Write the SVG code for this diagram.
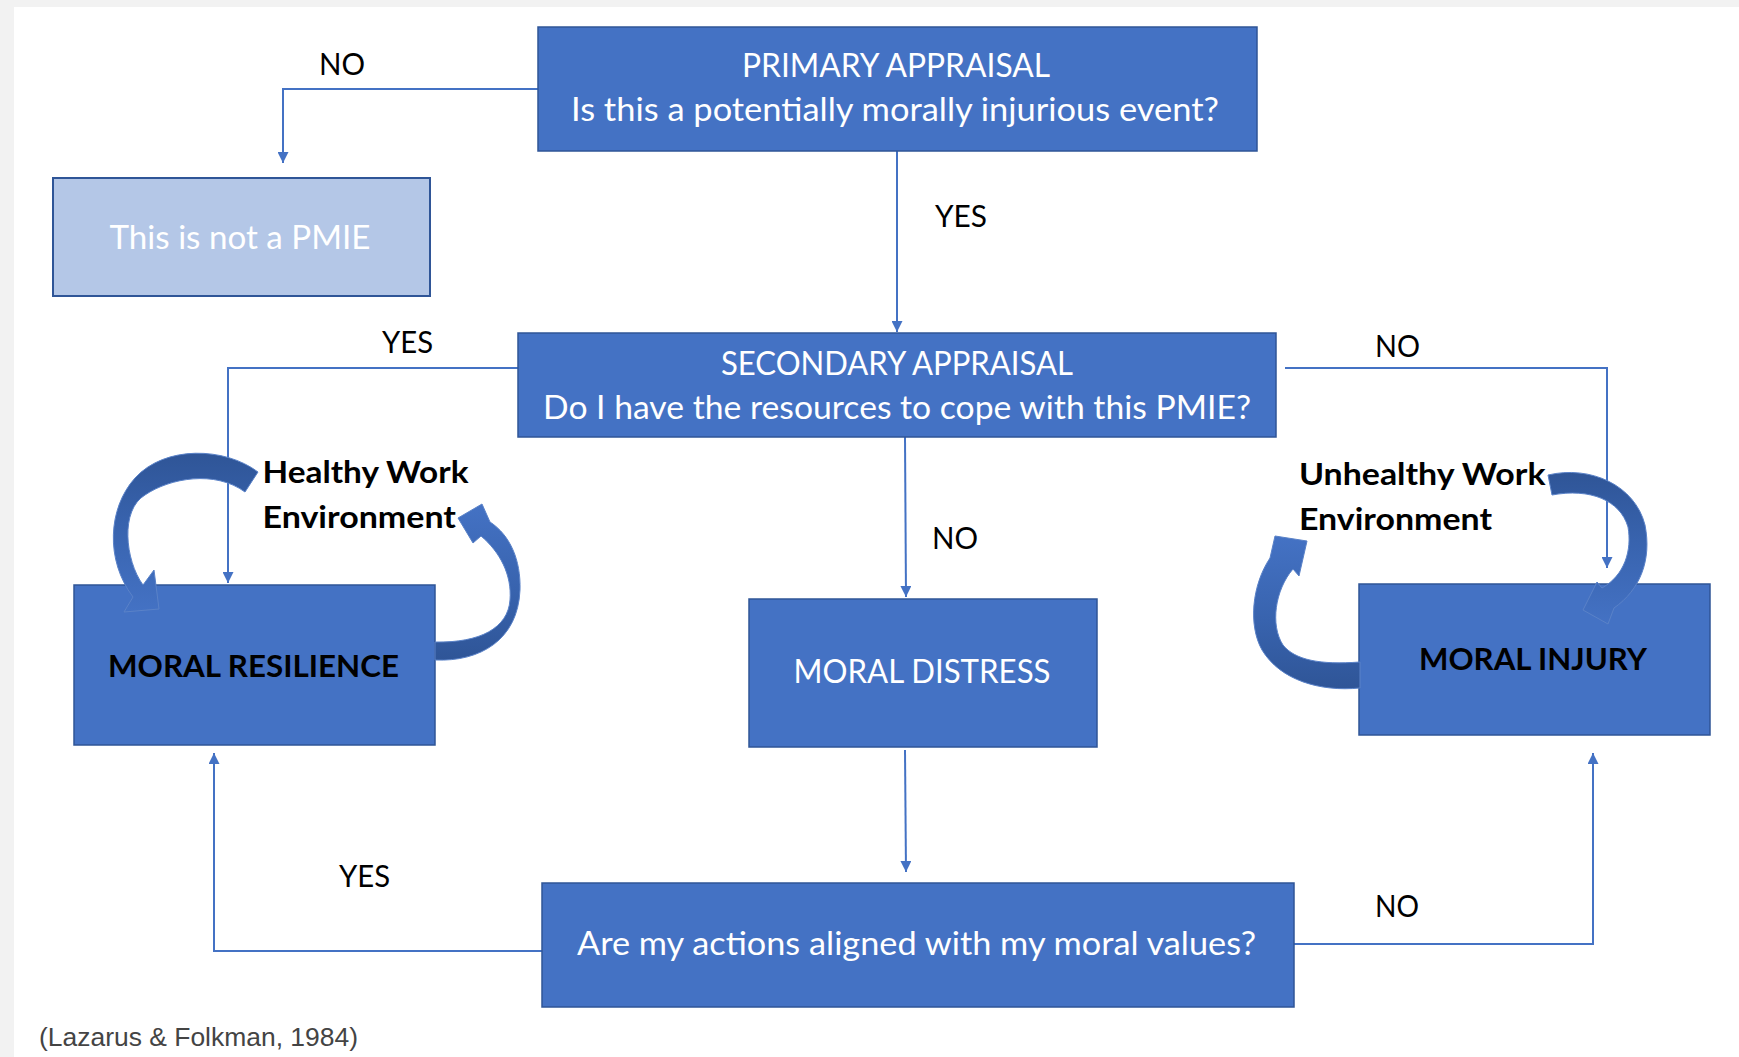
<svg xmlns="http://www.w3.org/2000/svg" width="1739" height="1057" viewBox="0 0 1739 1057">
<style>
.box{fill:#4472C4;stroke:#2F5597;stroke-width:1.5}
.light{fill:#B4C7E7;stroke:#2F5597;stroke-width:2}
.wt{font-family:Lato,"Liberation Sans",sans-serif;font-size:33px;fill:#FFFFFF;text-anchor:middle}
.bt{font-family:Lato,"Liberation Sans",sans-serif;font-size:31px;font-weight:700;fill:#000000}
.lbl{font-family:Lato,"Liberation Sans",sans-serif;font-size:31px;fill:#000000}
.conn{fill:none;stroke:#4472C4;stroke-width:2}
.curve{stroke:#5A82C8;stroke-width:1}
.cite{font-family:"Liberation Sans",Arial,sans-serif;font-size:26px;fill:#444444}
</style>
<defs>
<marker id="ah" viewBox="0 0 10 10" refX="10" refY="5" markerWidth="11" markerHeight="11" markerUnits="userSpaceOnUse" orient="auto">
<path d="M0,0 L10,5 L0,10 z" fill="#4472C4"/>
</marker>
<linearGradient id="gTopDark" x1="0" y1="0" x2="0" y2="1">
<stop offset="0" stop-color="#2F5597"/><stop offset="0.45" stop-color="#3863AE"/><stop offset="1" stop-color="#4472C4"/>
</linearGradient>
<linearGradient id="gBotDark" x1="0" y1="1" x2="0" y2="0">
<stop offset="0" stop-color="#2F5597"/><stop offset="0.45" stop-color="#3863AE"/><stop offset="1" stop-color="#4472C4"/>
</linearGradient>
</defs>
<rect x="0" y="0" width="1739" height="1057" fill="#FFFFFF"/>
<rect x="0" y="0" width="1739" height="7" fill="#F2F2F2"/>
<rect x="0" y="0" width="14" height="1057" fill="#F2F2F2"/>

<g id="connectors">
<path class="conn" d="M538,89 H283 V163" marker-end="url(#ah)"/>
<path class="conn" d="M897,151 V332" marker-end="url(#ah)"/>
<path class="conn" d="M518,368 H228 V583" marker-end="url(#ah)"/>
<path class="conn" d="M1285,368 H1607 V568" marker-end="url(#ah)"/>
<path class="conn" d="M905,437 L906,597" marker-end="url(#ah)"/>
<path class="conn" d="M905,750 L906,872" marker-end="url(#ah)"/>
<path class="conn" d="M542,951 H214 V753" marker-end="url(#ah)"/>
<path class="conn" d="M1294,944 H1593 V753" marker-end="url(#ah)"/>
<text class="lbl" x="319" y="75" textLength="46" lengthAdjust="spacingAndGlyphs">NO</text>
<text class="lbl" x="935" y="227" textLength="52" lengthAdjust="spacingAndGlyphs">YES</text>
<text class="lbl" x="382" y="353" textLength="51" lengthAdjust="spacingAndGlyphs">YES</text>
<text class="lbl" x="1375" y="357" textLength="45" lengthAdjust="spacingAndGlyphs">NO</text>
<text class="lbl" x="932" y="549" textLength="46" lengthAdjust="spacingAndGlyphs">NO</text>
<text class="lbl" x="339" y="887" textLength="51" lengthAdjust="spacingAndGlyphs">YES</text>
<text class="lbl" x="1375" y="917" textLength="44" lengthAdjust="spacingAndGlyphs">NO</text>
</g>

<g id="primary-appraisal">
<rect class="box" x="538" y="27" width="719" height="124"/>
<text class="wt" x="896" y="77" textLength="308" lengthAdjust="spacingAndGlyphs">PRIMARY APPRAISAL</text>
<text class="wt" x="895" y="121" textLength="648" lengthAdjust="spacingAndGlyphs">Is this a potentially morally injurious event?</text>
</g>

<g id="not-pmie">
<rect class="light" x="53" y="178" width="377" height="118"/>
<text class="wt" x="240" y="249" textLength="261" lengthAdjust="spacingAndGlyphs">This is not a PMIE</text>
</g>

<g id="secondary-appraisal">
<rect class="box" x="518" y="333" width="758" height="104"/>
<text class="wt" x="897" y="375" textLength="352" lengthAdjust="spacingAndGlyphs">SECONDARY APPRAISAL</text>
<text class="wt" x="897" y="419" textLength="708" lengthAdjust="spacingAndGlyphs">Do I have the resources to cope with this PMIE?</text>
</g>

<g id="moral-resilience">
<rect class="box" x="74" y="585" width="361" height="160"/>
<text class="bt" x="253.5" y="677" text-anchor="middle" textLength="291" lengthAdjust="spacingAndGlyphs">MORAL RESILIENCE</text>
</g>

<g id="moral-distress">
<rect class="box" x="749" y="599" width="348" height="148"/>
<text class="wt" x="922" y="683" textLength="257" lengthAdjust="spacingAndGlyphs">MORAL DISTRESS</text>
</g>

<g id="moral-injury">
<rect class="box" x="1359" y="584" width="351" height="151"/>
<text class="bt" x="1533" y="670" text-anchor="middle" textLength="228" lengthAdjust="spacingAndGlyphs">MORAL INJURY</text>
</g>

<g id="values-question">
<rect class="box" x="542" y="883" width="752" height="124"/>
<text class="wt" x="916.5" y="955" textLength="679" lengthAdjust="spacingAndGlyphs">Are my actions aligned with my moral values?</text>
</g>

<g id="healthy-work-environment">
<path class="curve" fill="url(#gTopDark)" d="M258,472 C225,447 165,445 135,478 C108,508 105,560 133,597 L124,612 L159,609 L154,570 L143,585 C125,560 120,510 145,495 C170,478 215,470 245,492 Z"/>
<path class="curve" fill="url(#gBotDark)" d="M435,660 C480,662 518,640 520,590 C521,560 510,535 490,522 L482,504 L458,518 L473,543 L481,536 C500,552 512,575 510,600 C508,628 480,643 435,642 Z"/>
<text class="bt" x="262.5" y="483" textLength="206" lengthAdjust="spacingAndGlyphs">Healthy Work</text>
<text class="bt" x="262.5" y="528" textLength="193.5" lengthAdjust="spacingAndGlyphs">Environment</text>
</g>

<g id="unhealthy-work-environment">
<path class="curve" fill="url(#gBotDark)" d="M1360,688 C1320,692 1280,680 1262,650 C1248,625 1252,585 1270,558 L1275,536 L1307,541 L1299,576 L1293,569 C1275,590 1270,625 1283,645 C1295,660 1320,665 1360,662 Z"/>
<path class="curve" fill="url(#gTopDark)" d="M1548,475 C1590,465 1635,485 1645,525 C1652,560 1640,590 1614,608 L1608,624 L1583,610 L1597,582 L1602,588 C1625,575 1632,550 1628,527 C1620,500 1590,488 1552,495 Z"/>
<text class="bt" x="1299" y="485" textLength="246.5" lengthAdjust="spacingAndGlyphs">Unhealthy Work</text>
<text class="bt" x="1299" y="530" textLength="193" lengthAdjust="spacingAndGlyphs">Environment</text>
</g>

<g id="citation">
<text class="cite" x="39" y="1046" textLength="319" lengthAdjust="spacingAndGlyphs">(Lazarus &amp; Folkman, 1984)</text>
</g>
</svg>
